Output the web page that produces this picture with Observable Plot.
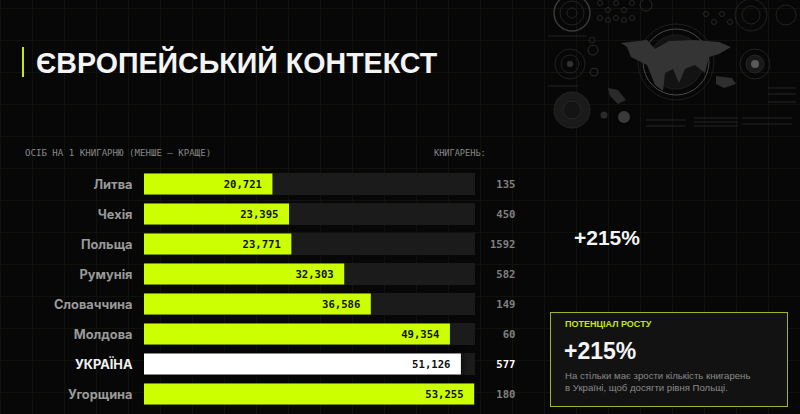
<!DOCTYPE html>
<html><head><meta charset="utf-8">
<script src="https://cdn.jsdelivr.net/npm/d3@7"></script>
<script src="https://cdn.jsdelivr.net/npm/@observablehq/plot@0.6"></script>
<style>
html,body{margin:0;padding:0;background:#050505;}
#page{position:relative;width:800px;height:414px;overflow:hidden;background-color:#070707;
background-image:linear-gradient(#10120c 1px,transparent 1px),linear-gradient(90deg,#10120c 1px,transparent 1px);background-size:32px 32px;background-position:0 8px;font-family:"Liberation Sans",sans-serif;}
#chart{position:absolute;left:0;top:0;}
#chart svg{background:transparent;display:block;}
.abs{position:absolute;white-space:nowrap;}
.mono{font-family:"DejaVu Sans Mono",monospace;color:#878787;}
#deco{position:absolute;left:546px;top:0;width:254px;height:134px;}
</style></head><body>
<div id="page">
<svg id="deco" viewBox="0 0 254 134" fill="none" stroke="#2a2a2a" stroke-width="0.8">
<circle cx="26" cy="13" r="18" stroke="#3a3a3a" stroke-width="1.5"/><circle cx="26" cy="13" r="12"/><circle cx="26" cy="13" r="5"/>
<circle cx="24" cy="64" r="15"/><circle cx="24" cy="64" r="9"/><circle cx="24" cy="64" r="3" fill="#333"/>
<circle cx="26" cy="110" r="18" fill="#1a1a1a"/><circle cx="26" cy="110" r="9" fill="#141414"/>
<circle cx="48" cy="72" r="4" stroke="#333"/><circle cx="47" cy="50" r="5" stroke="#333"/><circle cx="46" cy="40" r="3"/>
<circle cx="78" cy="117" r="6" fill="#3a3a3a" stroke="none"/><circle cx="58" cy="115" r="3.5" fill="#2a2a2a" stroke="none"/>
<circle cx="130" cy="62" r="33" stroke="#4a4a4a" stroke-width="1"/><circle cx="130" cy="62" r="38" stroke="#232323"/>
<circle cx="130" cy="62" r="27" fill="#131313" stroke="#222"/>
<path d="M75 43l26-3 8 9 14-8 24-1 26 2 12 5-12 7-10 3-4 16-10-8-10 4-6 14-6-14-8 4-2 18-8-6-8-20-16-8-4-10z" fill="#343434" stroke="none"/>
<path d="M170 76l16 2 4 6-12 4-8-4z" fill="#2e2e2e" stroke="none"/>
<path d="M62 88l10 2 8 10-8 4-8-8z" fill="#2a2a2a" stroke="none"/>
<circle cx="209" cy="64" r="15"/><circle cx="209" cy="64" r="9" fill="#191919"/><circle cx="209" cy="64" r="4" fill="#5a5a5a" stroke="none"/>
<circle cx="205" cy="15" r="16"/><circle cx="205" cy="15" r="9"/><circle cx="240" cy="15" r="10"/>
<circle cx="100" cy="5" r="6" stroke="#333"/>
<g stroke="#2f2f2f"><circle cx="54" cy="3" r="2.5"/><circle cx="62" cy="10" r="2.5"/><circle cx="70" cy="3" r="2.5"/><circle cx="78" cy="10" r="2.5"/><circle cx="86" cy="3" r="2.5"/><circle cx="54" cy="18" r="2.5"/><circle cx="62" cy="20" r="2.5"/><circle cx="70" cy="18" r="2.5"/><circle cx="78" cy="20" r="2.5"/><circle cx="86" cy="18" r="2.5"/>
<circle cx="160" cy="14" r="2.5"/><circle cx="168" cy="22" r="2.5"/><circle cx="176" cy="14" r="2.5"/><circle cx="184" cy="22" r="2.5"/></g>
<path d="M148 118h44M148 122h44M148 126h44M196 118h50M196 124h50M222 88h28M222 94h28M222 102h28M100 120h40M100 126h40M2 36h38M2 86h30" stroke="#2b2b2b"/>
</svg>
<div id="chart"></div>
<div class="abs" style="left:22px;top:47px;width:2px;height:30px;background:#c5e81a"></div>
<div class="abs" style="left:36px;top:45px;font-weight:700;font-size:28.6px;line-height:36px;color:#f4f4f4">ЄВРОПЕЙСЬКИЙ КОНТЕКСТ</div>
<div class="abs mono" style="left:25px;top:148px;font-size:9.1px">ОСІБ НА 1 КНИГАРНЮ (МЕНШЕ — КРАЩЕ)</div>
<div class="abs mono" style="left:434px;top:148px;font-size:8.6px">КНИГАРЕНЬ:</div>
<div class="abs" style="left:574px;top:226px;font-weight:700;font-size:21px;line-height:24px;color:#f4f4f4">+215%</div>
<div class="abs" style="left:550px;top:312px;width:236px;height:93px;border:1.5px solid #9cb32c;background:#121212"></div>
<div class="abs" style="left:565px;top:318px;font-weight:700;font-size:9px;line-height:12px;color:#c3e61e">ПОТЕНЦІАЛ РОСТУ</div>
<div class="abs" style="left:564px;top:337px;font-weight:700;font-size:23px;line-height:28px;color:#f4f4f4">+215%</div>
<div class="abs" style="left:565px;top:370px;font-size:9.6px;line-height:12px;color:#8a8a8a">На стільки має зрости кількість книгарень<br>в Україні, щоб досягти рівня Польщі.</div>
</div>
<script>
const countries = ["Литва","Чехія","Польща","Румунія","Словаччина","Молдова","УКРАЇНА","Угорщина"];
const peoplePerStore = [20721,23395,23771,32303,36586,49354,51126,53255];
const storeCounts = [135,450,1592,582,149,60,577,180];
const highlight = "УКРАЇНА";
const lime = "#ccff00";
const xMax = 53400;
const rows = countries.map((c,i)=>({country:c,value:peoplePerStore[i],stores:storeCounts[i]}));
const fmt = d3.format(",");
const labelFill = d => d === highlight ? "#f2f2f2" : "#9a9a9a";
const chart = Plot.plot({
  width:800,height:414,marginLeft:144,marginRight:325,marginTop:164,marginBottom:0,
  style:{background:"transparent",overflow:"visible"},
  x:{domain:[0,xMax],axis:null},
  y:{domain:countries,padding:0.27,axis:null},
  marks:[
    Plot.barX(rows,{y:"country",x:()=>xMax,fill:"#1b1b1b"}),
    Plot.barX(rows.filter(d=>d.country===highlight),{y:"country",x:"value",fill:"#000",imageFilter:"blur(4px)"}),
    Plot.barX(rows,{y:"country",x:"value",insetTop:0.5,insetBottom:0.5,fill:d=>d.country===highlight?"#ffffff":lime}),
    Plot.axisY({tickSize:0,tickPadding:12,fill:labelFill,fontSize:12.8,fontWeight:700,fontFamily:"Inter",label:null}),
    Plot.text(rows,{y:"country",x:"value",text:d=>fmt(d.value),textAnchor:"end",dx:-11,fill:"#111",fontFamily:"DejaVu Sans Mono",fontWeight:700,fontSize:10.6}),
    Plot.text(rows,{y:"country",frameAnchor:"right",text:d=>String(d.stores),dx:40,textAnchor:"end",fill:d=>d.country===highlight?"#ffffff":"#808080",fontFamily:"DejaVu Sans Mono",fontWeight:700,fontSize:10.6})
  ]
});
document.getElementById("chart").appendChild(chart);
</script>
</body></html>
